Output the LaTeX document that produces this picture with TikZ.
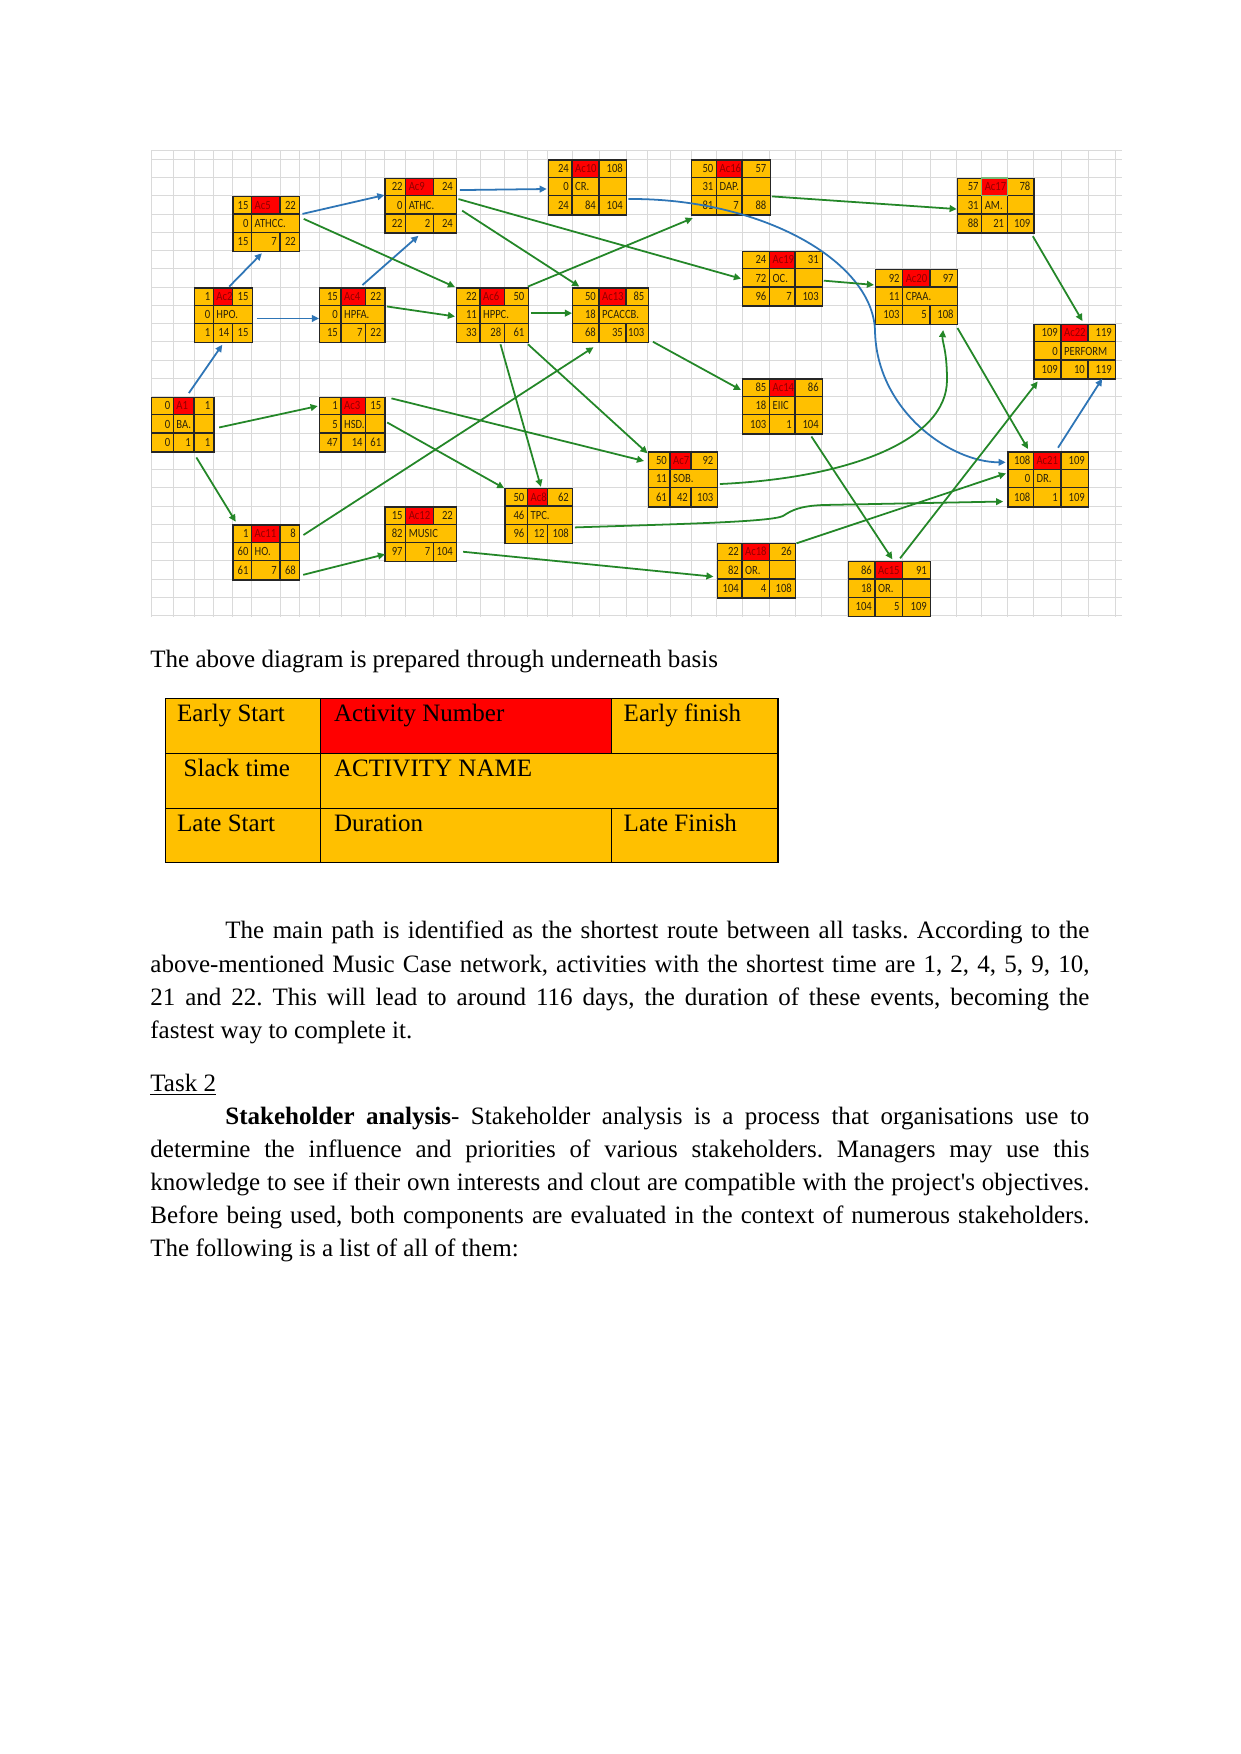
\documentclass[tikz,border=0pt]{standalone}
\usepackage{fontspec}
\setmainfont{Liberation Serif}[Ligatures=TeXOff]
\newfontfamily\cellfont[FakeStretch=0.85]{Carlito}
\usetikzlibrary{arrows.meta,calc}
\definecolor{cellyellow}{RGB}{255,192,0}
\definecolor{cellred}{RGB}{255,0,0}
\definecolor{actdark}{RGB}{145,0,0}
\definecolor{celltext}{RGB}{45,35,10}
\definecolor{linkgreen}{RGB}{36,135,40}
\definecolor{linkblue}{RGB}{46,117,182}
\definecolor{gridgray}{RGB}{218,218,218}
\definecolor{selgreen}{RGB}{120,185,120}
\frenchspacing

\def\px{0.47968pt}
% cell rows of one activity box
\def\acttop#1/#2/#3\relax{%
  \node[cellnum, anchor=base east] (\boxname-es) at (\xa,13.2) {#1};
  \node[cellact, anchor=base west] (\boxname-id) at (\xa,13.2) {#2};
  \node[cellnum, anchor=base east] (\boxname-ef) at (\xc,13.2) {#3};}
\def\actmid#1/#2/#3\relax{%
  \node[cellnum, anchor=base east] (\boxname-sl) at (\xa,31.45) {#1};
  \node[cellnum, anchor=base west] (\boxname-nm) at (\xa,31.45) {#2};
  \if\relax\detokenize{#3}\relax\else\draw[cellline] (\xb,18.25) -- (\xb,36.5);\fi}
\def\actbot#1/#2/#3\relax{%
  \node[cellnum, anchor=base east] (\boxname-ls) at (\xa,49.7) {#1};
  \node[cellnum, anchor=base east] (\boxname-du) at (\xb,49.7) {#2};
  \node[cellnum, anchor=base east] (\boxname-lf) at (\xc,49.7) {#3};}
% name, x, y, three column widths, top row, middle row, bottom row
\newcommand\actbox[9]{%
  \begin{scope}[shift={(#2,#3)}]
    \def\boxname{#1}%
    \pgfmathsetmacro\xa{#4}%
    \pgfmathsetmacro\xb{#4+#5}%
    \pgfmathsetmacro\xc{#4+#5+#6}%
    \fill[cellyellow] (0,0) rectangle (\xc,54.75);
    \fill[cellred] (\xa,0) rectangle (\xb,18.25);
    \draw[cellline] (0,18.25) -- (\xc,18.25) (0,36.5) -- (\xc,36.5)
      (\xa,0) -- (\xa,54.75) (\xb,0) -- (\xb,18.25) (\xb,36.5) -- (\xb,54.75);
    \acttop#7\relax
    \actmid#8\relax
    \actbot#9\relax
    \node[boxframe, anchor=north west, minimum width=\xc*\px, minimum height=54.75*\px] (#1) at (0,0) {};
  \end{scope}}

\begin{document}
\begin{tikzpicture}[x=0.47968pt, y=-0.47968pt,
  cellnum/.style={font=\cellfont\fontsize{6}{6}\selectfont, text=celltext, inner xsep=1.3pt, inner ysep=0pt},
  cellact/.style={cellnum, text=actdark},
  cellline/.style={draw=black!85, line width=0.55pt},
  boxframe/.style={draw=black!85, line width=0.7pt, inner sep=0pt},
  gridline/.style={draw=gridgray, line width=0.45pt},
  link/.style={draw=linkgreen, line width=0.85pt, -{Triangle[length=3.4pt,width=3.2pt]}},
  crit/.style={link, draw=linkblue},
  para/.style={font=\fontsize{12}{14}\selectfont, inner sep=0pt, anchor=base west},
  tabline/.style={draw=black, line width=0.5pt}
]
\fill[white] (0,0) rectangle (1241,1754);
\useasboundingbox (0,0) rectangle (1241,1754);

% spreadsheet grid
\foreach \gx in {151,173.3,194,213.3,232.3,251.6,280,299,319,341,365.7,384.4,405.7,433.3,456,480,504.3,527.5,547.7,572,599,626,647.5,670,691,716.5,742,769.5,795,821.8,847.7,875,902.7,930,956.7,981.7,1007.2,1033.4,1061,1088,1115}
  \draw[gridline] (\gx,150) -- (\gx,617);
\draw[gridline] (151,150) -- (1122,150);
\foreach \k in {0,...,25}
  \draw[gridline] (151,{159.3+18.25*\k}) -- (1122,{159.3+18.25*\k});

% activity boxes
\actbox{a1}{151}{396.55}{22.3}{20.7}{19.3}{0/A1/1}{0/BA./s}{0/1/1}
\actbox{ac2}{193.5}{287.05}{19.8}{19}{19.3}{1/Ac2/15}{0/HPO./}{1/14/15}
\actbox{ac5}{232.3}{195.8}{19.3}{28.4}{19}{15/Ac5/22}{0/ATHCC./}{15/7/22}
\actbox{ac4}{319}{287.05}{22}{24.7}{18.7}{15/Ac4/22}{0/HPFA./}{15/7/22}
\actbox{ac3}{319}{396.55}{22}{24.7}{18.7}{1/Ac3/15}{5/HSD./s}{47/14/61}
\actbox{ac9}{384.4}{177.55}{21.3}{27.6}{22.7}{22/Ac9/24}{0/ATHC./}{22/2/24}
\actbox{ac12}{384.4}{506.05}{21.3}{27.6}{22.7}{15/Ac12/22}{82/MUSIC/}{97/7/104}
\actbox{ac11}{232.3}{524.3}{19.3}{28.4}{19}{1/Ac11/8}{60/HO./s}{61/7/68}
\actbox{ac6}{456}{287.05}{24}{24.3}{23.2}{22/Ac6/50}{11/HPPC./}{33/28/61}
\actbox{ac8}{504.3}{487.8}{23.2}{20.2}{24.3}{50/Ac8/62}{46/TPC./}{96/12/108}
\actbox{ac10}{547.7}{159.3}{24.3}{27}{27}{24/Ac10/108}{0/CR./s}{24/84/104}
\actbox{ac13}{572}{287.05}{27}{27}{21.5}{50/Ac13/85}{18/PCACCB./}{68/35/103}
\actbox{ac7}{647.5}{451.3}{22.5}{21}{25.5}{50/Ac7/92}{11/SOB./}{61/42/103}
\actbox{ac16}{691}{159.3}{25.5}{25.5}{27.5}{50/Ac16/57}{31/DAP./s}{81/7/88}
\actbox{ac18}{716.5}{542.55}{25.5}{27.5}{25.5}{22/Ac18/26}{82/OR./s}{104/4/108}
\actbox{ac19}{742}{250.55}{27.5}{25.5}{26.8}{24/Ac19/31}{72/OC./s}{96/7/103}
\actbox{ac14}{742}{378.3}{27.5}{25.5}{26.8}{85/Ac14/86}{18/EIIC/s}{103/1/104}
\actbox{ac15}{847.7}{560.8}{27.3}{27.7}{27.3}{86/Ac15/91}{18/OR./s}{104/5/109}
\actbox{ac20}{875}{268.8}{27.7}{27.3}{26.7}{92/Ac20/97}{11/CPAA./}{103/5/108}
\actbox{ac17}{956.7}{177.55}{25}{25.5}{26.2}{57/Ac17/78}{31/AM./s}{88/21/109}
\actbox{ac21}{1007.2}{451.3}{26.2}{27.6}{27}{108/Ac21/109}{0/DR./s}{108/1/109}
\actbox{ac22}{1033.4}{323.55}{27.6}{27}{27}{109/Ac22/119}{0/PERFORM/}{109/10/119}
\draw[selgreen, line width=0.6pt] ($(ac17.north west)+(25,0.5)$) rectangle ($(ac17.north west)+(50.5,18)$);

% critical path links
\draw[crit] ($(a1.north)+(6,-3.5)$) -- ($(ac2.south)+(-1,1.5)$);
\draw[crit] ($(ac2.north)+(6,-0.5)$) -- ($(ac5.south)+(-4.5,1.2)$);
\draw[crit] ($(ac2.east)+(3.5,3.3)$) -- ($(ac4.west)+(0,3.3)$);
\draw[crit] ($(ac5.east)+(2,-10)$) -- ($(ac9.west)+(0,-10.6)$);
\draw[crit] ($(ac4.north)+(10,-2)$) -- ($(ac9.south)+(-2.5,2)$);
\draw[crit] ($(ac9.east)+(2.3,-15.6)$) -- ($(ac10.west)+(-1,1.6)$);
\draw[crit] ($(ac10.east)+(1,11.6)$) .. controls (760,198) and (872,260) .. (875,330)
  .. controls (876,410) and (950,462.3) .. ($(ac21.north west)+(-1.5,11)$);
\draw[crit] ($(ac21.north)+(9.7,-3.6)$) -- ($(ac22.south east)+(-14.3,-1)$);

% other links
\draw[link] ($(ac5.east)+(3.3,-5)$) -- ($(ac6.north west)+(-1,0)$);
\draw[link] ($(ac4.east)+(1,-8.7)$) -- ($(ac6.west)+(-1,1.3)$);
\draw[link] ($(ac9.east)+(1,-6.6)$) -- ($(ac19.west)+(-1,0)$);
\draw[link] ($(ac9.east)+(4.7,5)$) -- ($(ac13.north west)+(7.3,-0.5)$);
\draw[link] ($(ac6.north east)+(-1,-0.5)$) -- ($(ac16.south west)+(1.7,2.6)$);
\draw[link] ($(ac6.east)+(2,-2)$) -- ($(ac13.west)+(0,-2)$);
\draw[link] ($(ac13.south east)+(4,-1.5)$) -- ($(ac14.north west)+(-1,11.7)$);
\draw[link] ($(ac6.south)+(8,1)$) -- ($(ac8.north)+(2,-1)$);
\draw[link] ($(ac6.south east)+(-1,1)$) -- ($(ac7.north west)+(0,2)$);
\draw[link] ($(ac11.north east)+(3,10.7)$) -- ($(ac13.south)+(-17,4)$);
\draw[link] ($(ac16.east)+(1,9)$) -- ($(ac17.west)+(0,3.4)$);
\draw[link] ($(ac19.east)+(0.5,2)$) -- ($(ac20.west)+(-1,-12)$);
\draw[link] ($(ac17.south east)+(-2,2.5)$) -- ($(ac22.north)+(7.5,-2.5)$);
\draw[link] ($(ac20.south east)+(-0.7,3)$) -- ($(ac21.north)+(-20.3,-2.3)$);
\draw[link] ($(ac7.east)+(2,4.6)$) .. controls (850,478) and (947,440) .. (947,380)
  .. controls (947,350) and (942,342) .. ($(ac20.south east)+(-15,5)$);
\draw[link] ($(ac8.east)+(1.5,11.5)$) .. controls (680,524) and (770,522) .. (783,516)
  .. controls (792,510) and (800,506) .. (823,505) -- ($(ac21.south west)+(-4,-6)$);
\draw[link] ($(ac12.east)+(5.7,17.6)$) -- ($(ac18.west)+(-3,6)$);
\draw[link] ($(ac18.north east)+(0,0.8)$) -- ($(ac21.west)+(-1.2,-6)$);
\draw[link] ($(ac14.south)+(28.8,2)$) -- ($(ac15.north)+(2.8,-1.5)$);
\draw[link] ($(ac15.north)+(10.5,-2.5)$) -- ($(ac22.south west)+(4.3,1.7)$);
\draw[link] ($(a1.east)+(4.4,2.8)$) -- ($(ac3.north west)+(-1.3,9.5)$);
\draw[link] ($(a1.south)+(13.5,4.7)$) -- ($(ac11.north west)+(3.4,-2.6)$);
\draw[link] ($(ac11.south east)+(2.7,-5.7)$) -- ($(ac12.south west)+(0.6,-8)$);
\draw[link] ($(ac3.north east)+(5.6,1.8)$) -- ($(ac7.north west)+(-3.5,9.7)$);
\draw[link] ($(ac3.east)+(1.3,-2.2)$) -- ($(ac8.north west)+(0,0.5)$);

% legend table
\node[para] (basis) at (150,667) {The above diagram is prepared through underneath basis};
\fill[cellyellow] (165.7,698.3) rectangle (778,862.7);
\fill[cellred] (320.7,698.3) rectangle (611.7,753.3);
\draw[tabline] (165.7,698.3) rectangle (778,862.7);
\draw[tabline] (165.7,753.3) -- (778,753.3) (165.7,808.3) -- (778,808.3)
  (320.7,698.3) -- (320.7,862.7) (611.7,698.3) -- (611.7,753.3) (611.7,808.3) -- (611.7,862.7);
\node[para] (earlystart) at (176.7,721.7) {Early Start};
\node[para] (actnumber) at (333.7,721.7) {Activity Number};
\node[para] (earlyfinish) at (623.3,721.7) {Early finish};
\node[para] (slacktime) at (183.3,776.7) {Slack time};
\node[para] (actname) at (333.7,776.7) {ACTIVITY NAME};
\node[para] (latestart) at (176.7,831.7) {Late Start};
\node[para] (duration) at (333.7,831.7) {Duration};
\node[para] (latefinish) at (623.3,831.7) {Late Finish};

% body text
\node[para] (mainA) at (225,938) {\makebox[414.45pt][s]{The main path is identified as the shortest route between all tasks. According to the}};
\node[para] (mainB) at (150,972) {\makebox[450.42pt][s]{above-mentioned Music Case network, activities with the shortest time are 1, 2, 4, 5, 9, 10,}};
\node[para] (mainC) at (150,1005) {\makebox[450.42pt][s]{21 and 22. This will lead to around 116 days, the duration of these events, becoming the}};
\node[para] (mainD) at (150,1038) {fastest way to complete it.};
\node[para] (task) at (150,1091) {\underline{Task 2}};
\node[para] (stakeA) at (225,1124) {\makebox[414.45pt][s]{\textbf{Stakeholder analysis}- Stakeholder analysis is a process that organisations use to}};
\node[para] (stakeB) at (150,1157) {\makebox[450.42pt][s]{determine the influence and priorities of various stakeholders. Managers may use this}};
\node[para] (stakeC) at (150,1190) {\makebox[450.42pt][s]{knowledge to see if their own interests and clout are compatible with the project's objectives.}};
\node[para] (stakeD) at (150,1223) {\makebox[450.42pt][s]{Before being used, both components are evaluated in the context of numerous stakeholders.}};
\node[para] (stakeE) at (150,1256) {The following is a list of all of them:};
\end{tikzpicture}
\end{document}
